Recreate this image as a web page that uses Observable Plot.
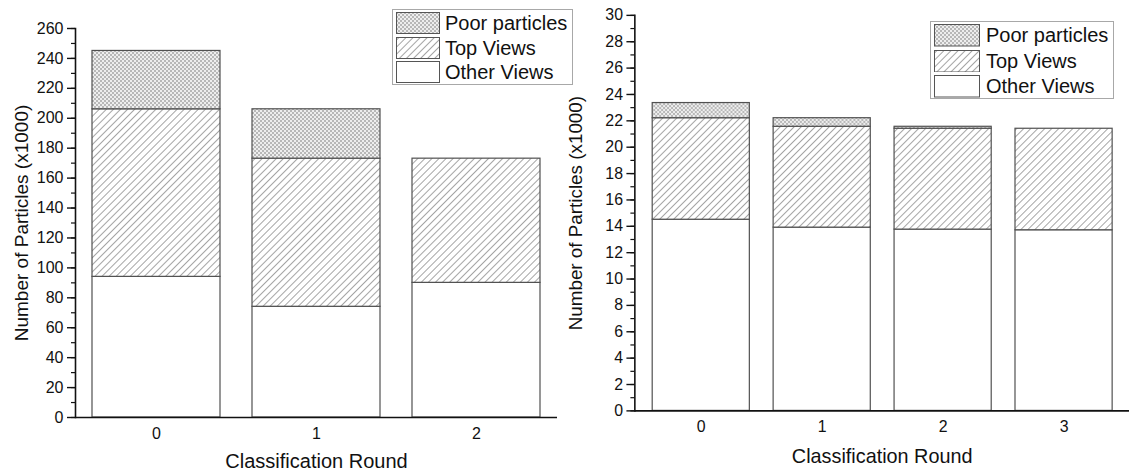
<!DOCTYPE html>
<html>
<head>
<meta charset="utf-8">
<script src="https://cdn.jsdelivr.net/npm/d3@7"></script>
<script src="https://cdn.jsdelivr.net/npm/@observablehq/plot@0.6"></script>
<style>
  html, body { margin: 0; padding: 0; background: #fff; overflow: hidden; }
  #root { position: relative; width: 1129px; height: 472px; overflow: hidden; font-family: "Liberation Sans", Arial, sans-serif; color: #111; }
  .panel { position: absolute; top: 0; }
  .legend { position: absolute; box-sizing: border-box; border: 1px solid #a8a8a8; background: #fff; }
  .legend .row { position: absolute; display: flex; align-items: center; }
  .legend .lab { font-size: 20px; line-height: 22px; white-space: nowrap; color: #111; }
</style>
</head>
<body>
<svg width="0" height="0" style="position:absolute">
  <defs>
    <pattern id="fill-top" patternUnits="userSpaceOnUse" width="5" height="5" patternTransform="rotate(45)">
      <rect width="5" height="5" fill="#fff"/>
      <line x1="2.5" y1="0" x2="2.5" y2="5" stroke="#959595" stroke-width="0.85"/>
    </pattern>
    <pattern id="fill-poor" patternUnits="userSpaceOnUse" width="4" height="4">
      <rect width="4" height="4" fill="#eeeeee"/>
      <rect x="0" y="0" width="2" height="2" fill="#b8b8b8"/>
      <rect x="2" y="2" width="2" height="2" fill="#b8b8b8"/>
    </pattern>
  </defs>
</svg>
<div id="root"></div>
<script>
// ---- data ----
const seriesNames = ["Other Views", "Top Views", "Poor particles"];
const legendOrder = ["Poor particles", "Top Views", "Other Views"];

const rounds1 = ["0", "1", "2"];
const other1 = [94, 74, 90];
const top1 = [112, 99, 83];
const poor1 = [39, 33, 0];
const yTicks1 = d3.range(0, 261, 20);
const yMinor1 = d3.range(0, 261, 10);

const rounds2 = ["0", "1", "2", "3"];
const other2 = [14.5, 13.9, 13.75, 13.7];
const top2 = [7.7, 7.65, 7.65, 7.7];
const poor2 = [1.15, 0.65, 0.15, 0];
const yTicks2 = d3.range(0, 31, 2);
const yMinor2 = d3.range(0, 31, 1);

const xTitle = "Classification Round";
const yTitle = "Number of Particles (x1000)";

// ---- styles ----
const fills = ["#ffffff", "url(#fill-top)", "url(#fill-poor)"];
const fillOf = Object.fromEntries(seriesNames.map((s, i) => [s, fills[i]]));

function buildTable(rounds, other, top, poor) {
  const rows = [];
  rounds.forEach((r, i) => {
    [other[i], top[i], poor[i]].forEach((v, j) => {
      if (v > 0) rows.push({round: r, series: seriesNames[j], value: v});
    });
  });
  return rows;
}

function chart({rounds, table, yMax, ticks, minor, width, marginTop, marginBottom, paddingOuter, yTitleDx, xTitleDy}) {
  return Plot.plot({
    width, height: 472,
    marginLeft: 75, marginRight: 0, marginTop, marginBottom,
    style: {fontFamily: '"Liberation Sans", Arial, sans-serif', fontSize: "16px", color: "#111", background: "transparent", overflow: "visible"},
    x: {domain: rounds, paddingInner: 0.2, paddingOuter, label: null},
    y: {domain: [0, yMax], label: null},
    color: {domain: seriesNames, range: fills},
    marks: [
      Plot.barY(table, {x: "round", y: "value", fill: "series", stroke: "#505050", strokeWidth: 1.2}),
      Plot.axisY(minor, {tickSize: 4, tickFormat: () => "", label: null, stroke: "#111", strokeWidth: 1.2}),
      Plot.axisY(ticks, {tickSize: 8, tickPadding: 4, fontSize: 16, label: null, stroke: "#111", strokeWidth: 1.4}),
      Plot.axisX({tickSize: 0, tickPadding: 10, fontSize: 16, label: null}),
      Plot.frame({anchor: "left", stroke: "#111", strokeWidth: 1.6}),
      Plot.ruleY([0], {stroke: "#111", strokeWidth: 1.6}),
      Plot.text([yTitle], {text: d => d, frameAnchor: "left", dx: yTitleDx, rotate: -90, fontSize: 19, textAnchor: "middle", lineAnchor: "middle", fill: "#111"}),
      Plot.text([xTitle], {text: d => d, frameAnchor: "bottom", dy: xTitleDy, fontSize: 20, textAnchor: "middle", lineAnchor: "middle", fill: "#111"})
    ]
  });
}

function legend({left, top, width, height, swatchX, swatchW, swatchH, firstRow, rowStep, textX}) {
  const box = document.createElement("div");
  box.className = "legend";
  Object.assign(box.style, {left: left + "px", top: top + "px", width: width + "px", height: height + "px"});
  legendOrder.forEach((name, i) => {
    const row = document.createElement("div");
    row.className = "row";
    Object.assign(row.style, {left: swatchX + "px", top: (firstRow + i * rowStep) + "px", height: swatchH + "px"});
    const ns = "http://www.w3.org/2000/svg";
    const sw = document.createElementNS(ns, "svg");
    sw.setAttribute("width", swatchW);
    sw.setAttribute("height", swatchH);
    const r = document.createElementNS(ns, "rect");
    r.setAttribute("x", 0.5); r.setAttribute("y", 0.5);
    r.setAttribute("width", swatchW - 1); r.setAttribute("height", swatchH - 1);
    r.setAttribute("fill", fillOf[name]);
    r.setAttribute("stroke", "#555");
    r.setAttribute("stroke-width", 1);
    sw.appendChild(r);
    row.appendChild(sw);
    const lab = document.createElement("span");
    lab.className = "lab";
    lab.style.marginLeft = (textX - swatchX - swatchW) + "px";
    lab.textContent = name;
    row.appendChild(lab);
    box.appendChild(row);
  });
  return box;
}

const root = document.getElementById("root");

const left = chart({
  rounds: rounds1, table: buildTable(rounds1, other1, top1, poor1), yMax: 260,
  ticks: yTicks1, minor: yMinor1, width: 557, marginTop: 28, marginBottom: 55,
  paddingOuter: 0.1, yTitleDx: -54, xTitleDy: 44
});
const p1 = document.createElement("div");
p1.className = "panel"; p1.style.left = "0px";
p1.appendChild(left);
root.appendChild(p1);

const right = chart({
  rounds: rounds2, table: buildTable(rounds2, other2, top2, poor2), yMax: 30,
  ticks: yTicks2, minor: yMinor2, width: 574, marginTop: 15, marginBottom: 58,
  paddingOuter: 0.137, yTitleDx: -59, xTitleDy: 46
});
const p2 = document.createElement("div");
p2.className = "panel"; p2.style.left = "560px";
p2.appendChild(right);
root.appendChild(p2);

root.appendChild(legend({left: 392, top: 9, width: 181, height: 76, swatchX: 3, swatchW: 44, swatchH: 22, firstRow: 2, rowStep: 24.7, textX: 52}));
root.appendChild(legend({left: 930, top: 21, width: 184, height: 78, swatchX: 3, swatchW: 46, swatchH: 22.5, firstRow: 2, rowStep: 25.5, textX: 55}));
</script>
</body>
</html>
